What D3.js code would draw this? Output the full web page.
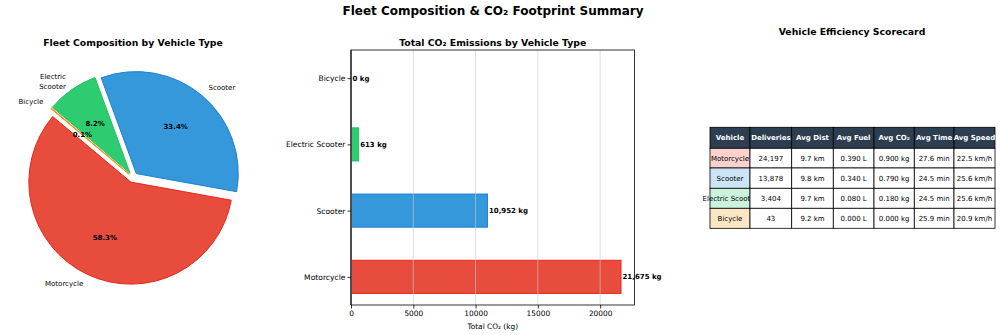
<!DOCTYPE html>
<html><head><meta charset="utf-8">
<script src="https://cdn.jsdelivr.net/npm/d3@7"></script>
<style>body{margin:0;background:#fff}svg{display:block;font-family:"DejaVu Sans",sans-serif}</style>
</head><body><svg id="c" width="1000" height="335"></svg>
<script>
const vehicles = ["Motorcycle","Scooter","Electric Scooter","Bicycle"];
const deliveries = [24197,13878,3404,43];
const co2Total = [21675,10952,613,0];
const colors = ["#e74c3c","#3498db","#2ecc71","#f39c12"];
const edgeColors = ["#e8261a","#1f7fd1","#22c063","#f08c00"];
const lightColors = ["#f9d2ce","#cce5f6","#cbf2dc","#fce6c4"];
const xTicks = [0,5000,10000,15000,20000];
const tableHeader = ["Vehicle","Deliveries","Avg Dist","Avg Fuel","Avg CO₂","Avg Time","Avg Speed"];
const avgDist = ["9.7 km","9.8 km","9.7 km","9.2 km"];
const avgFuel = ["0.390 L","0.340 L","0.080 L","0.000 L"];
const avgCO2 = ["0.900 kg","0.790 kg","0.180 kg","0.000 kg"];
const avgTime = ["27.6 min","24.5 min","24.5 min","25.9 min"];
const avgSpeed = ["22.5 km/h","25.6 km/h","25.6 km/h","20.9 km/h"];

const svg = d3.select("#c");
svg.append("text").attr("x",493).attr("y",15).attr("text-anchor","middle")
  .attr("font-size",12).attr("font-weight","bold").text("Fleet Composition & CO₂ Footprint Summary");

// ---------- PIE ----------
const cx=133, cy=177.5, R=102, explode=0.05;
svg.append("text").attr("x",133).attr("y",46).attr("text-anchor","middle")
  .attr("font-size",9.3).attr("font-weight","bold").text("Fleet Composition by Vehicle Type");
const start = Math.PI/2 - 140*Math.PI/180;
const pie = d3.pie().sort(null).startAngle(start).endAngle(start-2*Math.PI);
const arcs = pie(deliveries);
const arc = d3.arc().innerRadius(0).outerRadius(R);
const total = d3.sum(deliveries);
const pg = svg.append("g");
arcs.forEach((a,i)=>{
  const mid=(a.startAngle+a.endAngle)/2;
  const dx=Math.sin(mid), dy=-Math.cos(mid);
  const ox=cx+dx*R*explode, oy=cy+dy*R*explode;
  const g=pg.append("g").attr("transform",`translate(${ox},${oy})`);
  g.append("path").attr("d",arc(a)).attr("fill",colors[i]).attr("stroke",edgeColors[i]).attr("stroke-width",1);
});
arcs.forEach((a,i)=>{
  const mid=(a.startAngle+a.endAngle)/2;
  const dx=Math.sin(mid), dy=-Math.cos(mid);
  const ox=cx+dx*R*explode, oy=cy+dy*R*explode;
  const lx=ox+dx*R*1.1, ly=oy+dy*R*1.1;
  const anchor = dx>0?"start":"end";
  const lines = vehicles[i]==="Electric Scooter"?["Electric","Scooter"]:[vehicles[i]];
  const t=svg.append("text").attr("font-size",7).attr("text-anchor",anchor).attr("fill","#000");
  lines.forEach((l,k)=>{
    t.append("tspan").attr("x",lx).attr("y",ly+2.5+(k-(lines.length-1)/2)*9.5).text(l);
  });
  const px=ox+dx*R*0.6, py=oy+dy*R*0.6;
  svg.append("text").attr("x",px).attr("y",py+2.5).attr("text-anchor","middle")
    .attr("font-size",7).attr("font-weight","bold").text((deliveries[i]/total*100).toFixed(1)+"%");
});

// ---------- BAR ----------
const L=351, Rt=634.5, T=50, B=305;
const x=d3.scaleLinear().domain([0,d3.max(co2Total)*1.05]).range([L,Rt]);
const y=d3.scaleLinear().domain([-0.425,3.425]).range([B,T]);
svg.append("text").attr("x",(L+Rt)/2).attr("y",46).attr("text-anchor","middle")
  .attr("font-size",9.3).attr("font-weight","bold").text("Total CO₂ Emissions by Vehicle Type");
const bg=svg.append("g");
vehicles.forEach((v,i)=>{
  bg.append("rect").attr("x",x(0)).attr("y",y(i+0.25)).attr("width",x(co2Total[i])-x(0))
    .attr("height",y(i-0.25)-y(i+0.25)).attr("fill",colors[i]).attr("stroke",edgeColors[i]).attr("stroke-width",1);
});
xTicks.forEach(t=>{
  if(t===0) return;
  bg.append("line").attr("x1",x(t)).attr("x2",x(t)).attr("y1",T).attr("y2",B)
    .attr("stroke","#cccccc").attr("stroke-width",0.8).attr("opacity",0.8);
});
bg.append("line").attr("x1",x(0)).attr("x2",x(0)).attr("y1",T).attr("y2",B).attr("stroke","#808080").attr("stroke-width",2);
bg.append("rect").attr("x",L).attr("y",T).attr("width",Rt-L).attr("height",B-T).attr("fill","none").attr("stroke","#000").attr("stroke-width",0.8);
const xa=svg.append("g").attr("transform",`translate(0,${B})`)
  .call(d3.axisBottom(x).tickValues(xTicks).tickFormat(d3.format("d")).tickSize(3.5).tickPadding(2));
xa.select(".domain").remove();
xa.selectAll("text").attr("font-size",7.4).attr("font-family","DejaVu Sans").attr("fill","#000");
xa.selectAll("line").attr("stroke","#000").attr("stroke-width",0.8);
const ya=svg.append("g").attr("transform",`translate(${L},0)`)
  .call(d3.axisLeft(y).tickValues([0,1,2,3]).tickFormat(i=>vehicles[i]).tickSize(3.5).tickPadding(2));
ya.select(".domain").remove();
ya.selectAll("text").attr("font-size",7.6).attr("font-family","DejaVu Sans").attr("fill","#000");
ya.selectAll("line").attr("stroke","#000").attr("stroke-width",0.8);
vehicles.forEach((v,i)=>{
  svg.append("text").attr("x",x(co2Total[i])+1.5).attr("y",y(i)+2.5).attr("font-size",7).attr("font-weight","bold")
    .text(d3.format(",")(co2Total[i])+" kg");
});
svg.append("text").attr("x",(L+Rt)/2).attr("y",329).attr("text-anchor","middle").attr("font-size",7.4).text("Total CO₂ (kg)");

// ---------- TABLE ----------
svg.append("text").attr("x",852).attr("y",35).attr("text-anchor","middle")
  .attr("font-size",9.3).attr("font-weight","bold").text("Vehicle Efficiency Scorecard");
const colX=[710,750,791.7,833.3,874,914.3,954,995];
const rowY=[127.3,148.3,168,188.3,208.3,228.3];
const rows = vehicles.map((v,i)=>[v,d3.format(",")(deliveries[i]),avgDist[i],avgFuel[i],avgCO2[i],avgTime[i],avgSpeed[i]]);
const tg=svg.append("g");
const allRows=[tableHeader,...rows];
allRows.forEach((r,ri)=>{
  r.forEach((txt,ci)=>{
    const x0=colX[ci], x1=colX[ci+1], y0=rowY[ri], y1=rowY[ri+1];
    let fill = ri===0?"#2c3e50":(ci===0?lightColors[ri-1]:"#ffffff");
    tg.append("rect").attr("x",x0).attr("y",y0).attr("width",x1-x0).attr("height",y1-y0)
      .attr("fill",fill).attr("stroke","#000").attr("stroke-width",0.8);
    tg.append("text").attr("x",(x0+x1)/2).attr("y",(y0+y1)/2+2.5).attr("text-anchor","middle")
      .attr("font-size",7).attr("font-weight",ri===0?"bold":"normal").attr("fill",ri===0?"#fff":"#000").text(txt);
  });
});
</script></body></html>
